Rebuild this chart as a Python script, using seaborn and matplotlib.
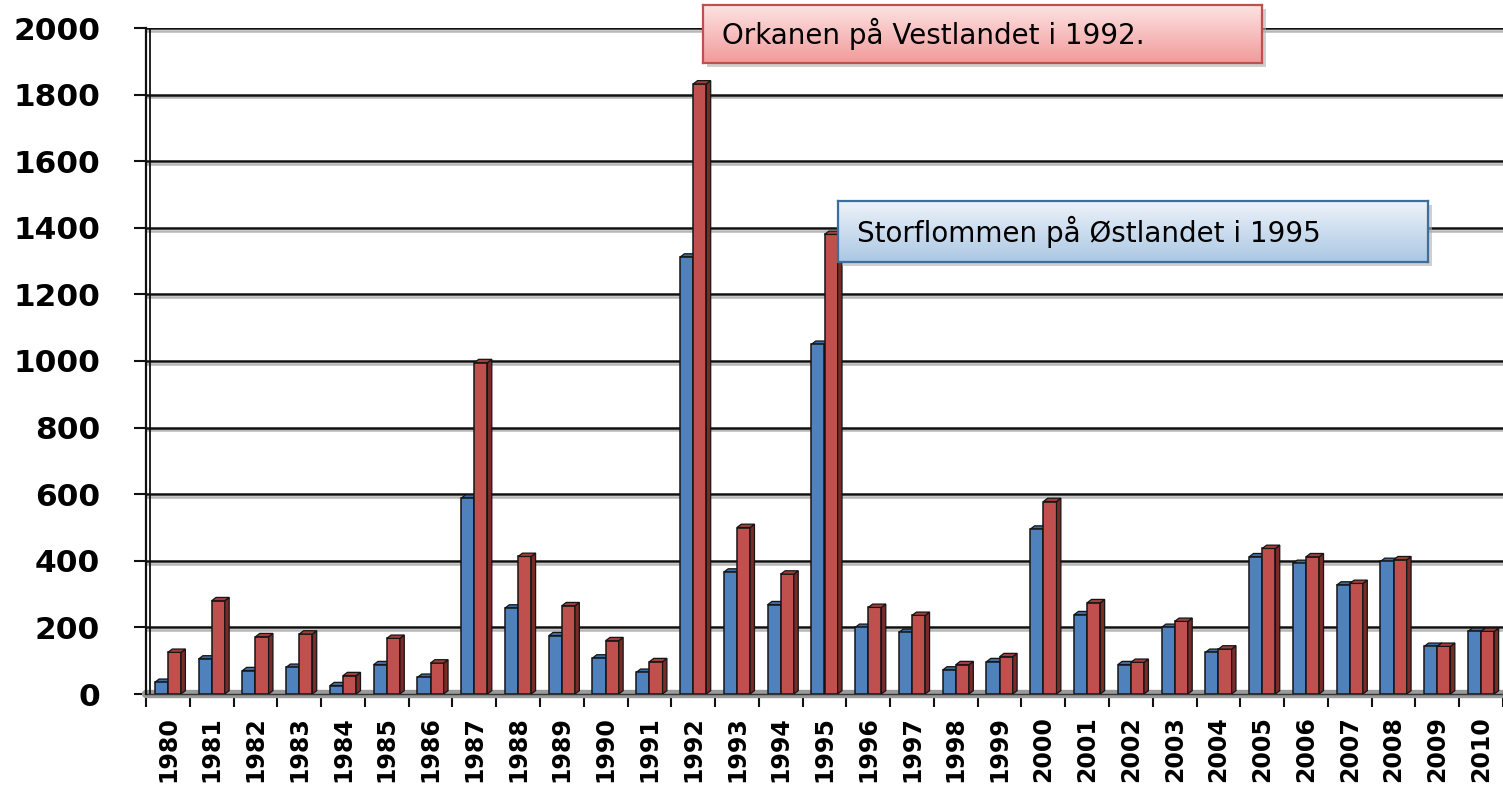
import numpy as np
import pandas as pd
import matplotlib
matplotlib.use("Agg")
import matplotlib.pyplot as plt
import seaborn as sns
from matplotlib.patches import Polygon, Rectangle
from matplotlib.colors import LinearSegmentedColormap
import matplotlib.patheffects as pe

# ---------------- data ----------------
years = [str(y) for y in range(1980, 2011)]
serie1 = [35, 105, 70, 80, 25, 88, 50, 588, 258, 175, 108, 65, 1312, 366, 268,
          1050, 200, 185, 72, 97, 495, 238, 88, 200, 125, 412, 392, 327, 398, 143, 188]
serie2 = [125, 280, 172, 180, 55, 167, 93, 995, 413, 265, 160, 97, 1832, 500, 360,
          1380, 260, 236, 88, 112, 578, 274, 95, 218, 135, 437, 412, 332, 403, 143, 188]
series_names = ["Serie 1", "Serie 2"]
colors = ["#4F81BD", "#C0504D"]
side_colors = ["#2E4F78", "#7A2B29"]
top_colors = ["#3F6C9F", "#A23F3C"]
yticks = list(range(0, 2001, 200))
note_1992 = "Orkanen på Vestlandet i 1992."
note_1995 = "Storflommen på Østlandet i 1995"

df = pd.DataFrame({
    "År": years * 2,
    "Verdi": serie1 + serie2,
    "Serie": [series_names[0]] * len(years) + [series_names[1]] * len(years),
})

sns.set_theme(style="white")
plt.rcParams['font.family'] = ['DejaVu Sans']
plt.rcParams['text.color'] = 'black'
plt.rcParams['xtick.color'] = 'black'
plt.rcParams['ytick.color'] = 'black'
plt.rcParams['xtick.labelcolor'] = 'black'
plt.rcParams['ytick.labelcolor'] = 'black'

W, H = 1503, 786
fig = plt.figure(figsize=(W / 100, H / 100), dpi=100)
fig.patch.set_facecolor("white")
ax = fig.add_axes([146 / W, 1 - 694 / H, 1 - 146 / W, (694 - 28) / H])

sns.barplot(data=df, x="År", y="Verdi", hue="Serie", palette=colors,
            hue_order=series_names, width=0.6, saturation=1,
            edgecolor="#151515", linewidth=1.1, legend=False, errorbar=None,
            ax=ax, zorder=3)

ax.set_xlim(-0.5, 30.24)
ax.set_ylim(0, 2000)

# pseudo-3D faces derived from the bar patches
dx = 0.1    # depth in category units
dy = 10     # depth in value units
bars = [p for p in ax.patches if isinstance(p, Rectangle)]
n = len(years)
for i, p in enumerate(bars):
    s = 0 if i < n else 1
    x0, w, h = p.get_x(), p.get_width(), p.get_height()
    side = Polygon([(x0 + w, 0), (x0 + w + dx, dy), (x0 + w + dx, h + dy), (x0 + w, h)],
                   closed=True, facecolor=side_colors[s], edgecolor="#151515",
                   linewidth=0.9, zorder=2.9 if s == 0 else 3.1)
    top = Polygon([(x0, h), (x0 + w, h), (x0 + w + dx, h + dy), (x0 + dx, h + dy)],
                  closed=True, facecolor=top_colors[s], edgecolor="#151515",
                  linewidth=0.9, zorder=2.95 if s == 0 else 3.1)
    ax.add_patch(side)
    ax.add_patch(top)

# grid
ax.set_axisbelow(True)
ax.set_yticks(yticks)
ax.yaxis.grid(True, color="#111111", linewidth=1.8)
for gl in ax.get_ygridlines():
    gl.set_path_effects([pe.SimpleLineShadow(offset=(0, -2), shadow_color="#888888", alpha=0.6),
                         pe.Normal()])
ax.xaxis.grid(False)

# floor
ax.axhline(0, color="#9A9A9A", linewidth=6, zorder=2, clip_on=False)
ax.axhline(0, color="#333333", linewidth=1.0, zorder=2.1, clip_on=False)

# spines / back wall
for sp in ["top", "right", "bottom"]:
    ax.spines[sp].set_visible(False)
ax.spines["left"].set_color("#111111")
ax.spines["left"].set_linewidth(1.6)
ax.axvline(-0.5 + dx * 0.8, color="#111111", linewidth=1.3, zorder=2)

# ticks
ax.set_xlabel("")
ax.set_ylabel("")
ax.set_yticklabels([str(v) for v in yticks], fontsize=22.5, fontweight="bold")
ax.tick_params(axis="y", which="major", direction="out", length=9, width=1.5,
               color="#111111", pad=24, left=True)
ax.set_xticks(range(n))
ax.set_xticklabels(years, rotation=90, fontsize=17, fontweight="bold")
ax.tick_params(axis="x", which="major", length=0, pad=16)
ax.set_xticks(np.arange(-0.5, n, 1.0), minor=True)
ax.tick_params(axis="x", which="minor", direction="out", length=9, width=1.5,
               color="#111111", bottom=True)

# annotation boxes
def note_box(rect_px, text, top_col, bot_col, edge_col):
    x0, y0, x1, y1 = rect_px
    sh = Rectangle(((x0 + 4) / W, 1 - (y1 + 4) / H), (x1 - x0) / W, (y1 - y0) / H,
                   transform=fig.transFigure, facecolor="#B0B0B0", edgecolor="none",
                   alpha=0.6, zorder=5)
    fig.patches.append(sh)
    bax = fig.add_axes([x0 / W, 1 - y1 / H, (x1 - x0) / W, (y1 - y0) / H], zorder=6)
    cmap = LinearSegmentedColormap.from_list("g", [top_col, bot_col])
    grad = np.linspace(0, 1, 100).reshape(-1, 1)
    bax.imshow(grad, cmap=cmap, aspect="auto", extent=[0, 1, 0, 1], origin="upper")
    bax.set_xlim(0, 1)
    bax.set_ylim(0, 1)
    bax.set_xticks([])
    bax.set_yticks([])
    for sp in bax.spines.values():
        sp.set_color(edge_col)
        sp.set_linewidth(1.6)
        sp.set_visible(True)
    bax.text(19 / (x1 - x0), 0.5, text, fontsize=20, color="black",
             ha="left", va="center", transform=bax.transAxes)

note_box((703, 5, 1262, 63), note_1992, "#FDE4E4", "#F29A9A", "#C0504D")
note_box((838, 201, 1428, 262), note_1995, "#EDF3FA", "#ABC7E3", "#3E6E9E")

fig.savefig("out.png", dpi=100, facecolor="white")
